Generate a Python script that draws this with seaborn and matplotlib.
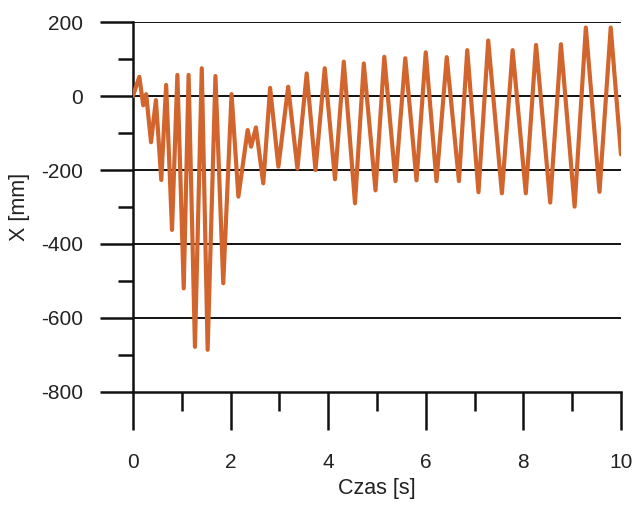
import matplotlib
matplotlib.use("Agg")
import matplotlib.pyplot as plt
import seaborn as sns
from matplotlib.ticker import MultipleLocator

# peaks and troughs (time [s], displacement [mm])
czas = [0.00, 0.13, 0.21, 0.27, 0.37, 0.47, 0.58, 0.68, 0.80, 0.91,
        1.04, 1.14, 1.27, 1.41, 1.53, 1.69, 1.85, 2.02, 2.16, 2.35,
        2.42, 2.52, 2.67, 2.81, 2.98, 3.18, 3.37, 3.56, 3.74, 3.93,
        4.14, 4.32, 4.55, 4.73, 4.97, 5.15, 5.38, 5.58, 5.81, 6.00,
        6.22, 6.43, 6.68, 6.85, 7.08, 7.28, 7.56, 7.78, 8.05, 8.26,
        8.55, 8.77, 9.05, 9.28, 9.56, 9.79, 10.0]
x_mm = [0, 52, -25, 5, -125, -11, -227, 30, -362, 57,
        -520, 57, -678, 75, -686, 54, -506, 5, -272, -92,
        -137, -85, -236, 22, -191, 25, -196, 61, -200, 75,
        -225, 93, -290, 88, -255, 106, -230, 102, -228, 118,
        -230, 105, -230, 124, -260, 150, -263, 124, -263, 138,
        -288, 140, -299, 185, -259, 185, -158]

sns.set_style("white")
plt.rcParams["font.family"] = ["Liberation Sans", "DejaVu Sans"]
plt.rcParams["axes.unicode_minus"] = False

fig = plt.figure(figsize=(6.35, 5.05), dpi=100)
ax = fig.add_axes([0.2094, 0.2238, 0.7685, 0.7326])

sns.lineplot(x=czas, y=x_mm, ax=ax, color="#D2652D", linewidth=3.0,
             solid_joinstyle="round", zorder=3)

ax.set_xlim(0, 10)
ax.set_ylim(-800, 200)
ax.xaxis.set_major_locator(MultipleLocator(2))
ax.xaxis.set_minor_locator(MultipleLocator(1))
ax.yaxis.set_major_locator(MultipleLocator(200))
ax.yaxis.set_minor_locator(MultipleLocator(100))

# horizontal grid lines
for yv in [200, 0, -200, -400, -600]:
    ax.axhline(yv, color="#111111", linewidth=1.4, zorder=1)

for side in ["top", "right"]:
    ax.spines[side].set_visible(False)
for side in ["left", "bottom"]:
    ax.spines[side].set_linewidth(1.8)
    ax.spines[side].set_color("#111111")

ax.tick_params(axis="both", which="both", bottom=True, left=True,
               top=False, right=False)
ax.tick_params(axis="y", which="major", direction="out", length=24, width=1.8,
               color="#111111", pad=12, labelsize=15, labelcolor="#222222")
ax.tick_params(axis="y", which="minor", direction="out", length=11, width=1.8,
               color="#111111")
ax.tick_params(axis="x", which="major", direction="out", length=27, width=1.8,
               color="#111111", pad=17, labelsize=15, labelcolor="#222222")
ax.tick_params(axis="x", which="minor", direction="out", length=14, width=1.8,
               color="#111111")

ax.set_xlabel("Czas [s]", fontsize=15.5, color="#222222", labelpad=4)
ax.set_ylabel("X [mm]", fontsize=15.5, color="#222222", labelpad=8)

fig.savefig("out.png", dpi=100)
